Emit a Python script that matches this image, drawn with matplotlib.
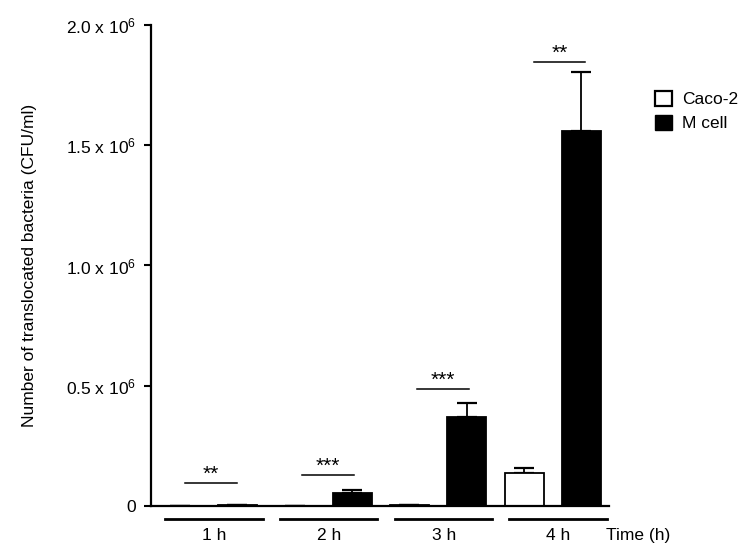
import numpy as np
import matplotlib
matplotlib.use('Agg')
import matplotlib.pyplot as plt
import matplotlib.transforms as mtransforms
from matplotlib.patches import Patch

plt.rcParams['font.family'] = ['Liberation Sans', 'DejaVu Sans']
plt.rcParams['mathtext.fontset'] = 'custom'
plt.rcParams['mathtext.rm'] = 'Liberation Sans'
plt.rcParams['mathtext.default'] = 'regular'

# data
groups = ['1 h', '2 h', '3 h', '4 h']
caco = [500, 500, 3000, 137000]
caco_err = [0, 0, 0, 23000]
mcell = [4000, 53000, 370000, 1558000]
mcell_err = [0, 13000, 58000, 247000]
sig_labels = ['**', '***', '***', '**']
sig_y = [96000, 128000, 486000, 1845000]
sig_x = [0.02, 1.04, 2.04, 3.06]

yticks = [0, 0.5e6, 1.0e6, 1.5e6, 2.0e6]
ytick_labels = ['0', '0.5 x 10$^6$', '1.0 x 10$^6$', '1.5 x 10$^6$', '2.0 x 10$^6$']

fs = 12.5

fig = plt.figure(figsize=(7.54, 5.55), dpi=100)
ax = fig.add_axes([0.2003, 0.0883, 0.6074, 0.8667])

x = np.arange(len(groups))
w = 0.34
off = 0.25
ax.bar(x - off, caco, w, color='white', edgecolor='black', linewidth=1.3, zorder=2)
ax.bar(x + off, mcell, w, color='black', edgecolor='black', linewidth=1.3, zorder=2)
ax.errorbar(x - off, caco, yerr=[np.zeros(4), caco_err], fmt='none', ecolor='black',
            elinewidth=1.3, capsize=7, capthick=1.6, zorder=1)
ax.errorbar(x + off, mcell, yerr=[np.zeros(4), mcell_err], fmt='none', ecolor='black',
            elinewidth=1.3, capsize=7, capthick=1.6, zorder=1)

# significance lines
for sx, sy, lab in zip(sig_x, sig_y, sig_labels):
    ax.plot([sx - 0.225, sx + 0.225], [sy, sy], color='black', lw=1.1)
    ax.text(sx, sy - 2000, lab, ha='center', va='bottom', fontsize=15)

ax.set_xlim(-0.5035, 3.49)
ax.set_ylim(0, 2.0e6)
ax.set_yticks(yticks)
ax.set_yticklabels(ytick_labels, fontsize=fs)
ax.tick_params(axis='y', length=5, width=1.5, pad=6)
ax.set_xticks([])
for s in ['top', 'right']:
    ax.spines[s].set_visible(False)
ax.spines['left'].set_linewidth(1.6)
ax.spines['bottom'].set_linewidth(1.6)

# group underlines and labels below the axis
trans = mtransforms.blended_transform_factory(ax.transData, ax.transAxes)
for i, g in enumerate(groups):
    ax.plot([i - 0.38, i + 0.47], [-0.027, -0.027], color='black', lw=2,
            transform=trans, clip_on=False)
    ax.text(i + 0.05, -0.062, g, ha='center', va='center', fontsize=fs, transform=trans)
ax.text(3.745, -0.062, 'Time (h)', ha='center', va='center', fontsize=fs, transform=trans)

ax.set_ylabel('Number of translocated bacteria (CFU/ml)', fontsize=fs)
ax.yaxis.set_label_coords(-0.25, 0.5)

handles = [Patch(facecolor='white', edgecolor='black', linewidth=1.6),
           Patch(facecolor='black', edgecolor='black')]
fig.legend(handles, ['Caco-2', 'M cell'], loc='upper left', bbox_to_anchor=(0.86, 0.849),
           frameon=False, fontsize=fs, handlelength=0.95, handleheight=0.95,
           handletextpad=0.6, labelspacing=0.45, borderaxespad=0)

fig.savefig('out.png', dpi=100)
